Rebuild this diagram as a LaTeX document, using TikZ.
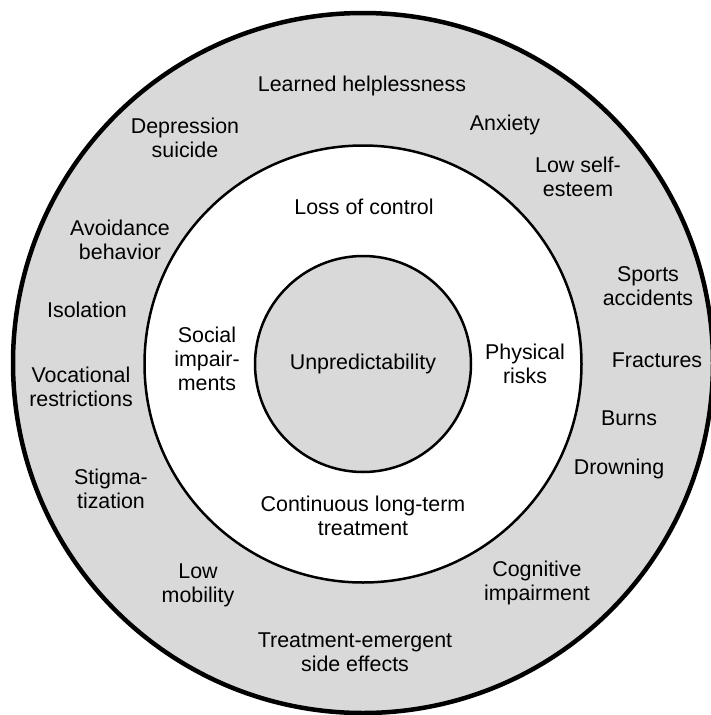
\documentclass[tikz,border=0pt]{standalone}
\usepackage{fontspec}
\setmainfont{Liberation Sans}
\definecolor{ringgray}{RGB}{217,217,217}
\begin{document}
\begin{tikzpicture}[x=1pt,y=-1pt,
  ring/.style={circle,inner sep=0pt,draw=black},
  lbl/.style={align=center,inner sep=0pt,font=\fontsize{21.4}{24}\selectfont}]
\useasboundingbox (0,0) rectangle (711,715);
\node[ring,fill=ringgray,line width=4.5pt,minimum size=700pt] (outer) at (363,363) {};
\node[ring,fill=white,line width=2.5pt,minimum size=437pt] (middle) at (363,364) {};
\node[ring,fill=ringgray,line width=2.5pt,minimum size=216pt] (inner) at (363,364) {};
% inner
\node[lbl] (unp) at (363,364) {Unpredictability};
% middle ring
\node[lbl] (loss) at (364,207) {Loss of control};
\node[lbl] (social) at (207,359) {Social\\impair-\\ments};
\node[lbl] (phys) at (525,364) {Physical\\risks};
\node[lbl] (cont) at (363,516) {Continuous long-term\\treatment};
% outer ring
\node[lbl] (learn) at (362,86) {Learned helplessness};
\node[lbl] (dep) at (185,138) {Depression\\suicide};
\node[lbl] (anx) at (505,125) {Anxiety};
\node[lbl] (low) at (578,177) {Low self-\\esteem};
\node[lbl] (avoid) at (120,240) {Avoidance\\behavior};
\node[lbl] (sports) at (648,286) {Sports\\accidents};
\node[lbl] (iso) at (87,310) {Isolation};
\node[lbl] (frac) at (657,360) {Fractures};
\node[lbl] (voc) at (81,387) {Vocational\\restrictions};
\node[lbl] (burns) at (629,418) {Burns};
\node[lbl] (drown) at (619,469) {Drowning};
\node[lbl] (stig) at (111,489) {Stigma-\\tization};
\node[lbl] (cog) at (537,583) {Cognitive\\impairment};
\node[lbl] (mob) at (198,585) {Low\\mobility};
\node[lbl] (side) at (355,652) {Treatment-emergent\\side effects};
\end{tikzpicture}
\end{document}
